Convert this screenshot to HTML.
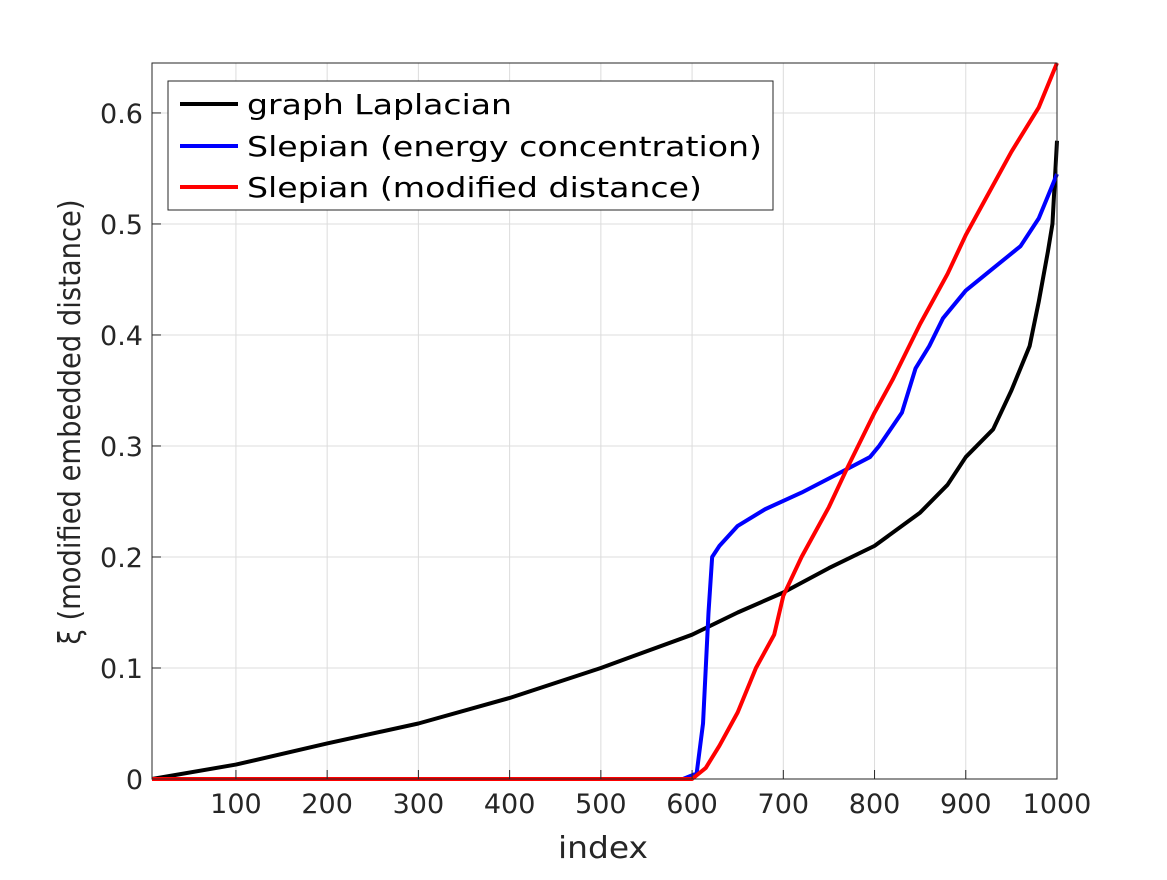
<!DOCTYPE html>
<html><head><meta charset="utf-8"><style>
body{margin:0;background:#fff}
svg text{font-family:"DejaVu Sans","Liberation Sans",sans-serif;fill:#262626}
</style></head><body>
<svg id="chart" width="1167" height="875" xmlns="http://www.w3.org/2000/svg">
<rect width="1167" height="875" fill="#fff"/>
<g id="grid"></g>
<g id="series"></g>
<rect x="152" y="63" width="905" height="716" fill="none" stroke="#262626" stroke-width="1"/>
<g id="ticks"></g>
<text x="603" y="858" font-size="30" text-anchor="middle" textLength="90" lengthAdjust="spacingAndGlyphs">index</text>
<text transform="translate(80,422) rotate(-90)" font-size="30" text-anchor="middle" textLength="445" lengthAdjust="spacingAndGlyphs">ξ (modified embedded distance)</text>
<g>
<rect x="168" y="81" width="605" height="129" fill="#fff" stroke="#262626" stroke-width="1"/>
<g><line x1="180" y1="104" x2="238" y2="104" stroke="#000" stroke-width="4"/><text x="247" y="114" font-size="28" style="fill:#000" textLength="265" lengthAdjust="spacingAndGlyphs">graph Laplacian</text></g>
<g><line x1="180" y1="146" x2="238" y2="146" stroke="#00f" stroke-width="4"/><text x="247" y="156" font-size="28" style="fill:#000" textLength="515" lengthAdjust="spacingAndGlyphs">Slepian (energy concentration)</text></g>
<g><line x1="180" y1="187" x2="238" y2="187" stroke="#f00" stroke-width="4"/><text x="247" y="197" font-size="28" style="fill:#000" textLength="455" lengthAdjust="spacingAndGlyphs">Slepian (modified distance)</text></g>
</g>
</svg>
<script>
const xTicks=[100,200,300,400,500,600,700,800,900,1000];
const yTicks=[0,0.1,0.2,0.3,0.4,0.5,0.6];
const lapX=[8,100,200,300,400,500,600,650,700,750,800,850,880,900,930,950,970,980,990,995,1000];
const lapY=[0,0.013,0.032,0.05,0.073,0.1,0.13,0.15,0.168,0.19,0.21,0.24,0.265,0.29,0.315,0.35,0.39,0.43,0.475,0.5,0.575];
const engX=[8,590,605,612,618,622,630,650,680,720,760,795,805,830,845,860,875,900,930,960,980,990,1000];
const engY=[0,0,0.005,0.05,0.15,0.2,0.21,0.228,0.243,0.258,0.275,0.29,0.3,0.33,0.37,0.39,0.415,0.44,0.46,0.48,0.505,0.525,0.545];
const modX=[8,600,615,630,650,670,690,700,720,750,770,800,820,850,880,900,920,950,980,1000];
const modY=[0,0,0.01,0.03,0.06,0.1,0.13,0.165,0.2,0.245,0.28,0.33,0.36,0.41,0.455,0.49,0.52,0.565,0.605,0.645];
const X0=152,X1=1057,Y0=779,Y1=63,xmin=8,xmax=1000,ymin=0,ymax=0.645;
const sx=v=>X0+(v-xmin)/(xmax-xmin)*(X1-X0);
const sy=v=>Y0-(v-ymin)/(ymax-ymin)*(Y0-Y1);
const NS="http://www.w3.org/2000/svg";
const grid=document.getElementById('grid'),ticks=document.getElementById('ticks'),ser=document.getElementById('series');
function mk(t,a){const e=document.createElementNS(NS,t);for(const k in a)e.setAttribute(k,a[k]);return e;}
xTicks.forEach(v=>{const x=sx(v);
const g=mk('line',{x1:x,x2:x,y1:Y0,y2:Y1,stroke:'#dcdcdc','stroke-width':1});

grid.appendChild(g);
const t=mk('line',{x1:x,x2:x,y1:Y0,y2:Y0-9,stroke:'#262626'});

ticks.appendChild(t);
const l=mk('text',{x:x,y:Y0+34,'font-size':27,'text-anchor':'middle'});l.textContent=v;

ticks.appendChild(l);});
yTicks.forEach(v=>{const y=sy(v);
const g=mk('line',{x1:X0,x2:X1,y1:y,y2:y,stroke:'#dcdcdc','stroke-width':1});

grid.appendChild(g);
const t=mk('line',{x1:X0,x2:X0+9,y1:y,y2:y,stroke:'#262626'});

ticks.appendChild(t);
const l=mk('text',{x:X0-9,y:y+10,'font-size':27,'text-anchor':'end'});l.textContent=v;

ticks.appendChild(l);});
function line(xs,ys,c,name){const p=mk('polyline',{points:xs.map((x,i)=>sx(x)+','+sy(ys[i])).join(' '),fill:'none',stroke:c,'stroke-width':4,'stroke-linejoin':'round'});

ser.appendChild(p);}
line(lapX,lapY,'#000','series-graph-laplacian');
line(engX,engY,'#00f','series-slepian-energy');
line(modX,modY,'#f00','series-slepian-modified-distance');
</script>
</body></html>
